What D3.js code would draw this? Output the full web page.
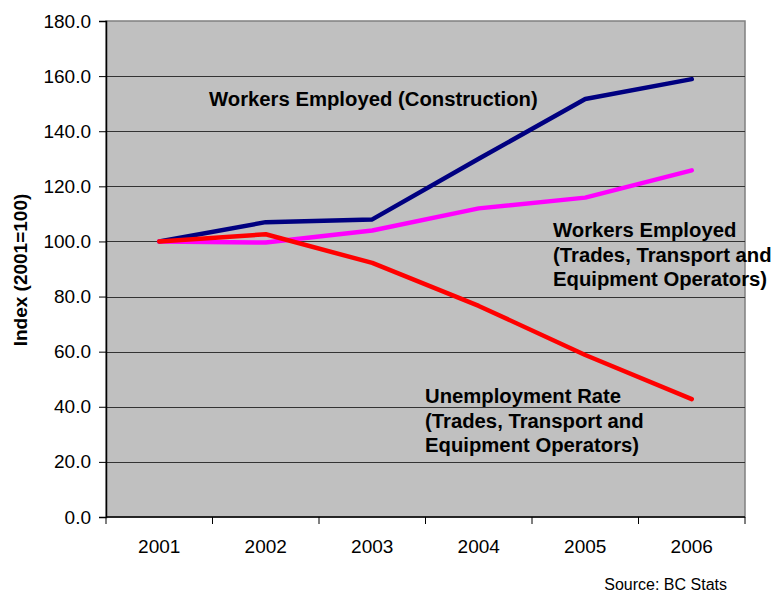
<!DOCTYPE html>
<html>
<head>
<meta charset="utf-8">
<script src="https://cdn.jsdelivr.net/npm/d3@7"></script>
<style>
  html, body { margin: 0; padding: 0; background: #ffffff; }
  svg { display: block; font-family: "Liberation Sans", Arial, sans-serif; }
</style>
</head>
<body>
<svg id="chart" width="775" height="592"></svg>
<script>
// Index values, 2001 = 100
const years = ["2001", "2002", "2003", "2004", "2005", "2006"];
const construction = [100.0, 107.0, 108.0, 130.0, 151.7, 158.9];
const tradesEmployed = [100.0, 99.6, 104.0, 112.0, 115.9, 125.8];
const unemploymentRate = [100.0, 102.6, 92.2, 76.6, 58.8, 42.8];
const yTicks = [0, 20, 40, 60, 80, 100, 120, 140, 160, 180];

const seriesList = [
  { name: "construction", values: construction, color: "#000080" },
  { name: "trades", values: tradesEmployed, color: "#ff00ff" },
  { name: "unemployment", values: unemploymentRate, color: "#ff0000" }
];

const margin = { left: 106, top: 21, right: 30, bottom: 75 };
const width = 775, height = 592;
const plotW = width - margin.left - margin.right;
const plotH = height - margin.top - margin.bottom;

const svg = d3.select("#chart");
const g = svg.append("g").attr("transform", `translate(${margin.left},${margin.top})`);

const x = d3.scaleBand().domain(years).range([0, plotW]);
const y = d3.scaleLinear().domain([0, 180]).range([plotH, 0]);

// Plot background
g.append("rect")
  .attr("x", 0).attr("y", 0).attr("width", plotW).attr("height", plotH)
  .attr("fill", "#c0c0c0").attr("stroke", "#808080").attr("stroke-width", 1.5);

// Horizontal gridlines
g.append("g").selectAll("line")
  .data(yTicks.filter(d => d > 0 && d < 180))
  .join("line")
  .attr("x1", 0).attr("x2", plotW)
  .attr("y1", d => Math.round(y(d)) + 0.5).attr("y2", d => Math.round(y(d)) + 0.5)
  .attr("stroke", "#333333").attr("stroke-width", 1);

// Y axis
const yAxis = g.append("g")
  .call(d3.axisLeft(y).tickValues(yTicks).tickFormat(d3.format(".1f")).tickSize(7).tickPadding(8));
yAxis.select(".domain").attr("stroke", "#000").attr("stroke-width", 1.5);
yAxis.selectAll(".tick line").attr("stroke", "#000");
yAxis.selectAll("text").attr("font-size", 19).attr("fill", "#000")
  .attr("font-family", "'Liberation Sans', Arial, sans-serif");

// X axis with ticks on category boundaries
const xAxisG = g.append("g").attr("transform", `translate(0,${plotH})`);
xAxisG.append("line").attr("x1", 0).attr("x2", plotW).attr("y1", 0).attr("y2", 0)
  .attr("stroke", "#000").attr("stroke-width", 1.5);
const boundaries = years.map(d => x(d)).concat([plotW]);
xAxisG.selectAll(".bt").data(boundaries).join("line").attr("class", "bt")
  .attr("x1", d => d).attr("x2", d => d).attr("y1", 0).attr("y2", 7)
  .attr("stroke", "#000").attr("stroke-width", 1);
xAxisG.selectAll(".yl").data(years).join("text").attr("class", "yl")
  .attr("x", d => x(d) + x.bandwidth() / 2).attr("y", 36)
  .attr("text-anchor", "middle").attr("font-size", 19).attr("fill", "#000")
  .text(d => d);

// Series lines
const line = d3.line()
  .x((d, i) => x(years[i]) + x.bandwidth() / 2)
  .y(d => y(d));
g.append("g").selectAll("path")
  .data(seriesList)
  .join("path")
  .attr("d", s => line(s.values))
  .attr("fill", "none")
  .attr("stroke", s => s.color)
  .attr("stroke-width", 4.5)
  .attr("stroke-linejoin", "round")
  .attr("stroke-linecap", "round");

// Annotation labels
const notes = [
  { lines: ["Workers Employed (Construction)"], x: 209, y: 106 },
  { lines: ["Workers Employed", "(Trades, Transport and", "Equipment Operators)"], x: 553, y: 237 },
  { lines: ["Unemployment Rate", "(Trades, Transport and", "Equipment Operators)"], x: 425, y: 403 }
];
notes.forEach(n => {
  const t = svg.append("text")
    .attr("x", n.x).attr("y", n.y)
    .attr("font-size", 20.3).attr("font-weight", "bold").attr("fill", "#000");
  n.lines.forEach((l, i) => {
    t.append("tspan").attr("x", n.x).attr("dy", i === 0 ? 0 : 24.5).text(l);
  });
});

// Y axis title
svg.append("text")
  .attr("transform", "translate(27,270) rotate(-90)")
  .attr("text-anchor", "middle")
  .attr("font-size", 19).attr("font-weight", "bold").attr("fill", "#000")
  .text("Index (2001=100)");

// Source note
svg.append("text")
  .attr("x", 727).attr("y", 590)
  .attr("text-anchor", "end")
  .attr("font-size", 16).attr("fill", "#000")
  .text("Source: BC Stats");
</script>
</body>
</html>
